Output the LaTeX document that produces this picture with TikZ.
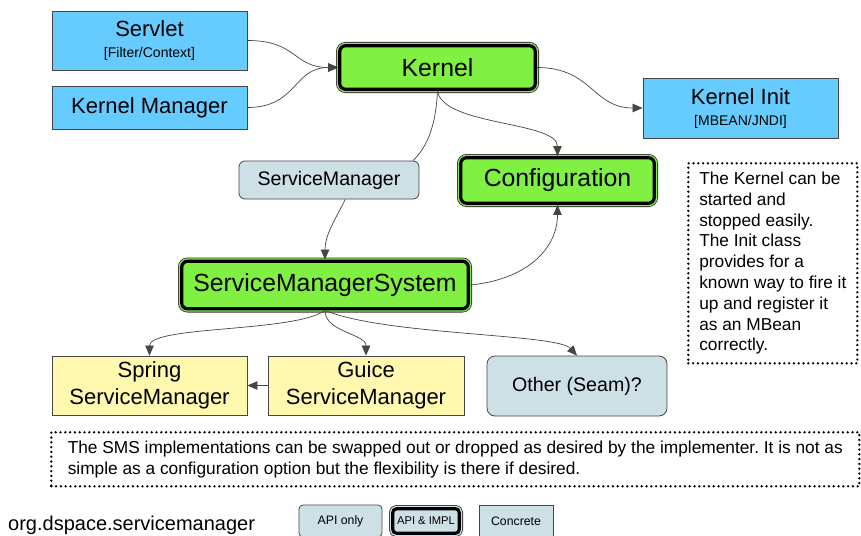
\documentclass[tikz,border=0pt]{standalone}
\usepackage{fontspec}
\setmainfont{Liberation Sans}
\usetikzlibrary{arrows.meta}
\definecolor{kblue}{RGB}{102,204,255}
\definecolor{kgreen}{RGB}{128,240,66}
\definecolor{kyellow}{RGB}{255,249,176}
\definecolor{kgrey}{RGB}{205,224,230}
\definecolor{kline}{RGB}{70,70,70}
\newcommand\fszG{\fontsize{24.8}{30}\selectfont}
\newcommand\fszB{\fontsize{22}{21}\selectfont}
\newcommand\fszY{\fontsize{22}{27.5}\selectfont}
\newcommand\fszS{\fontsize{14}{16}\selectfont}
\newcommand\fszM{\fontsize{19.6}{24}\selectfont}
\newcommand\fszN{\fontsize{17.3}{20.8}\selectfont\frenchspacing}
\newcommand\fszL{\fontsize{20}{24}\selectfont}
\newcommand\fszT{\fontsize{12.3}{15}\selectfont}
\begin{document}
\begin{tikzpicture}[x=1pt,y=-1pt,
  box/.style={draw=kline, line width=0.8, inner sep=0pt, align=center},
  concrete/.style={box, fill=#1},
  apionly/.style={box, fill=kgrey, rounded corners=6},
  impl/.style={inner sep=0pt, align=center, rounded corners=6, fill=#1, draw=black,
    line width=3.2, preaction={draw=black!80, line width=7.4},
    preaction={draw=#1, line width=5.8}},
  conn/.style={draw=kline, line width=0.7},
  arr/.style={conn, -{Triangle[length=10pt,width=8.5pt]}},
  dotbox/.style={draw=black, line width=2.6, dash pattern=on 0pt off 4.8pt,
    line cap=round, inner sep=0pt},
]
\fill[white] (0,0) rectangle (861,535);
\useasboundingbox (0,0) rectangle (861,535);

% nodes
\node[concrete=kblue, minimum width=195, minimum height=59, font=\fszB] (servlet) at (149.5,40.5)
  {Servlet\\{\fszS [Filter/Context]}};
\node[concrete=kblue, minimum width=195, minimum height=43, font=\fszB] (kman) at (149.5,107.5)
  {Kernel Manager};
\node[impl=kgreen, minimum width=195.6, minimum height=43.6, font=\fszG] (kernel) at (437.5,67.5)
  {Kernel};
\node[concrete=kblue, minimum width=195, minimum height=60, font=\fszB] (kinit) at (740.5,108)
  {Kernel Init\\{\fszS [MBEAN/JNDI]}};
\node[apionly, minimum width=180, minimum height=38, font=\fszM] (sm) at (329,180)
  {ServiceManager};
\node[impl=kgreen, minimum width=193.6, minimum height=45.6, font=\fszG] (conf) at (557.5,180.5)
  {Configuration};
\node[impl=kgreen, minimum width=286.6, minimum height=47.6, font=\fszG] (sms) at (325,285)
  {ServiceManagerSystem};
\node[concrete=kyellow, minimum width=195, minimum height=59, font=\fszY] (spring) at (149.5,385.5)
  {Spring\\ServiceManager};
\node[concrete=kyellow, minimum width=196, minimum height=59, font=\fszY] (guice) at (366,385.5)
  {Guice\\ServiceManager};
\node[apionly, rounded corners=8, minimum width=180, minimum height=60, font=\fszM] (other) at (577,386)
  {Other (Seam)?};

% notes
\node[dotbox, anchor=north west, minimum width=169, minimum height=200,
  align=left, font=\fszN] (note1) at (687,162)
  {The Kernel can be\\started and\\stopped easily.\\The Init class\\provides for a\\known way to fire it\\up and register it\\as an MBean\\correctly.};
\node[dotbox, anchor=north west, minimum width=808, minimum height=54,
  align=left, font=\fszN] (note2) at (50,431)
  {The SMS implementations can be swapped out or dropped as desired by the implementer. It is not as\\simple as a configuration option but the flexibility is there if desired.};

% legend
\node[anchor=base west, inner sep=0pt, font=\fszL] (pkg) at (8,530) {org.dspace.servicemanager};
\node[apionly, rounded corners=4, minimum width=83, minimum height=32, font=\fszT] (lapi) at (340.5,521) {API only};
\node[impl=kgrey, rounded corners=4, minimum width=66.6, minimum height=24.6, font=\fszT] (limpl) at (426,521) {\fontsize{11.2}{14}\selectfont API \& IMPL};
\node[concrete=kgrey, minimum width=74, minimum height=32, font=\fszT] (lconc) at (516,521) {Concrete};

% connectors
\draw[arr] (servlet.east) .. controls +(50,0) and +(-45,0) .. (kernel.west);
\draw[arr] (kman.east) .. controls +(50,0) and +(-45,0) .. (kernel.west);
\draw[arr] (kernel.east) .. controls +(55,0) and +(-50,0) .. (kinit.west);
\draw[arr] (kernel.south) .. controls +(5,35) and +(0,-35) .. (conf.north);
\draw[conn] (kernel.south) .. controls +(-2,40) and +(12,-12) .. (sm.13);
\draw[arr] (sm.-50) .. controls +(-10,20) and +(0,-25) .. (sms.north);
\draw[arr] (sms.east) .. controls +(55,-5) and +(0,45) .. (conf.south);
\draw[arr] (sms.south) .. controls +(-30,22) and +(0,-30) .. (spring.north);
\draw[arr] (sms.south) .. controls +(0,22) and +(0,-22) .. (guice.north);
\draw[arr] (sms.south) .. controls +(60,25) and +(-20,-22) .. (other.north);
\draw[arr] (guice.west) -- (spring.east);
\end{tikzpicture}
\end{document}
